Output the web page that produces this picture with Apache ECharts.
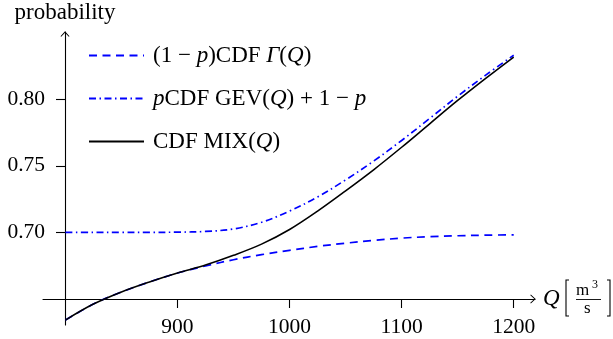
<!DOCTYPE html>
<html><head><meta charset="utf-8">
<script src="https://cdn.jsdelivr.net/npm/echarts@6/dist/echarts.min.js"></script>
<style>html,body{margin:0;padding:0;background:#fff}#c{width:613px;height:339px}</style>
</head><body><div id="c"></div>
<script>
// ---- data ----
const discharge = [800, 825, 850, 875, 900, 925, 950, 975, 1000, 1025, 1050, 1075, 1100, 1125, 1150, 1175, 1200];
const gammaPart = [0.6342, 0.6462, 0.6553, 0.6628, 0.6695, 0.6748, 0.6795, 0.6833, 0.6865, 0.6895, 0.6919, 0.6940, 0.6957, 0.6968, 0.6975, 0.6979, 0.6982];
const gevPart   = [0.7000, 0.7000, 0.7000, 0.7000, 0.7002, 0.7007, 0.7026, 0.7076, 0.7160, 0.7266, 0.7394, 0.7535, 0.7690, 0.7855, 0.8022, 0.8180, 0.8330];
const mixCdf    = [0.6342, 0.6462, 0.6553, 0.6628, 0.6695, 0.6755, 0.6828, 0.6912, 0.7022, 0.7160, 0.7312, 0.7470, 0.7639, 0.7815, 0.7990, 0.8156, 0.8316];
const xTicks = [900, 1000, 1100, 1200];
const yTicks = [0.70, 0.75, 0.80];
const seriesNames = ['gamma', 'gev', 'mix'];
const legendLabels = {
  gamma: '(1 − {i|p})CDF {i|Γ}({i|Q})',
  gev: '{i|p}CDF GEV({i|Q}) + 1 − {i|p}',
  mix: 'CDF MIX({i|Q})'
};
const yAxisTitle = 'probability';
const xAxisTitle = 'Q';

// ---- chart ----
const F = 'Liberation Serif';
const FS = 23;
const TS = 21.5;
const pair = arr => discharge.map((q, i) => [q, arr[i]]);
const chevron = 'path://M0,5.4 L5,0 L10,5.4 L9.2,6 L5,1.5 L0.8,6 Z';

const chart = echarts.init(document.getElementById('c'), null, {renderer: 'canvas'});
chart.setOption({
  animation: false,
  backgroundColor: '#fff',
  grid: {left: 43, right: 78, top: 32, bottom: 14, containLabel: false},
  xAxis: {
    type: 'value', min: 780, max: 1219, offset: -26,
    name: xAxisTitle, nameLocation: 'end', nameGap: 8,
    nameTextStyle: {fontFamily: F, fontSize: FS, fontStyle: 'italic', color: '#000'},
    axisLine: {onZero: false, lineStyle: {color: '#000', width: 1.1},
      symbol: ['none', chevron], symbolSize: [9, 6], symbolOffset: [0, -2]},
    axisTick: {show: true, length: 9, inside: false, lineStyle: {color: '#000', width: 1.1}, customValues: xTicks},
    axisLabel: {margin: 17, fontFamily: F, fontSize: TS, color: '#000', customValues: xTicks,
      formatter: v => String(v)},
    splitLine: {show: false}
  },
  yAxis: {
    type: 'value', min: 0.6305, max: 0.8504, offset: -22,
    name: yAxisTitle, nameLocation: 'end', nameGap: 8,
    nameTextStyle: {fontFamily: F, fontSize: FS, color: '#000'},
    axisLine: {show: true, onZero: false, lineStyle: {color: '#000', width: 1.1},
      symbol: ['none', chevron], symbolSize: [9, 6], symbolOffset: [0, -2]},
    axisTick: {show: true, length: 9, inside: false, lineStyle: {color: '#000', width: 1.1}, customValues: yTicks},
    axisLabel: {margin: 20, fontFamily: F, fontSize: TS, color: '#000', customValues: yTicks,
      formatter: v => v.toFixed(2)},
    splitLine: {show: false}
  },
  legend: {
    orient: 'vertical', left: 83, top: 39, itemWidth: 55, itemHeight: 24, itemGap: 20,
    data: seriesNames,
    itemStyle: {opacity: 0},
    textStyle: {fontFamily: F, fontSize: FS, color: '#000', padding: [0, 0, 0, 4],
      rich: {i: {fontFamily: F, fontSize: FS, fontStyle: 'italic', color: '#000'}}},
    formatter: name => legendLabels[name]
  },
  series: [
    {name: 'gamma', type: 'line', data: pair(gammaPart), symbol: 'none', smooth: 0.35, z: 2,
      lineStyle: {color: '#0000ff', width: 1.7, type: [8, 5.5]}, itemStyle: {color: '#0000ff'}},
    {name: 'gev', type: 'line', data: pair(gevPart), symbol: 'none', smooth: 0.35, z: 2,
      lineStyle: {color: '#0000ff', width: 1.7, type: [7, 3.5, 1.5, 3.5]}, itemStyle: {color: '#0000ff'}},
    {name: 'mix', type: 'line', data: pair(mixCdf), symbol: 'none', smooth: 0.35, z: 3,
      lineStyle: {color: '#000', width: 1.6, type: 'solid'}, itemStyle: {color: '#000'}}
  ],
  graphic: [
    {type: 'polyline', shape: {points: [[569, 280], [566, 280], [566, 316], [569, 316]]}, style: {stroke: '#000', lineWidth: 1.1, fill: null}},
    {type: 'polyline', shape: {points: [[607, 280], [610, 280], [610, 316], [607, 316]]}, style: {stroke: '#000', lineWidth: 1.1, fill: null}},
    {type: 'text', left: 576, top: 282, style: {text: 'm', fontFamily: F, fontSize: 17, fill: '#000'}},
    {type: 'text', left: 592, top: 279, style: {text: '3', fontFamily: F, fontSize: 12, fill: '#000'}},
    {type: 'line', shape: {x1: 576, y1: 299.5, x2: 601, y2: 299.5}, style: {stroke: '#000', lineWidth: 0.9}},
    {type: 'text', left: 584, top: 300, style: {text: 's', fontFamily: F, fontSize: 17, fill: '#000'}}
  ]
});
</script>
</body></html>
